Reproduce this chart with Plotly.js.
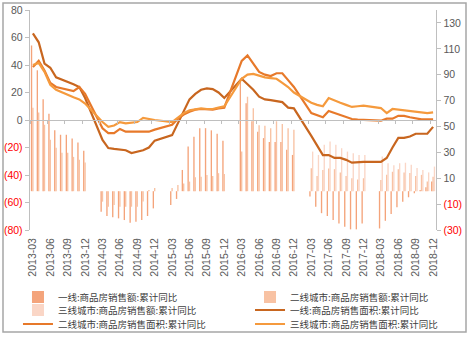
<!DOCTYPE html>
<html>
<head>
<meta charset="utf-8">
<script src="https://cdn.plot.ly/plotly-3.0.1.min.js"></script>
<style>
html,body{margin:0;padding:0;background:#fff;}
#chart{width:473px;height:342px;}
</style>
</head>
<body>
<div id="chart"></div>
<script>
// full monthly category axis 2013-03 .. 2018-12
var allMonths = [
 '2013-03','2013-04','2013-05','2013-06','2013-07','2013-08','2013-09','2013-10','2013-11','2013-12',
 '2014-01','2014-02','2014-03','2014-04','2014-05','2014-06','2014-07','2014-08','2014-09','2014-10','2014-11','2014-12',
 '2015-01','2015-02','2015-03','2015-04','2015-05','2015-06','2015-07','2015-08','2015-09','2015-10','2015-11','2015-12',
 '2016-01','2016-02','2016-03','2016-04','2016-05','2016-06','2016-07','2016-08','2016-09','2016-10','2016-11','2016-12',
 '2017-01','2017-02','2017-03','2017-04','2017-05','2017-06','2017-07','2017-08','2017-09','2017-10','2017-11','2017-12',
 '2018-01','2018-02','2018-03','2018-04','2018-05','2018-06','2018-07','2018-08','2018-09','2018-10','2018-11','2018-12'
];
// months that carry data (Mar-Dec of each year)
var dataMonths = [
 '2013-03','2013-04','2013-05','2013-06','2013-07','2013-08','2013-09','2013-10','2013-11','2013-12',
 '2014-03','2014-04','2014-05','2014-06','2014-07','2014-08','2014-09','2014-10','2014-11','2014-12',
 '2015-03','2015-04','2015-05','2015-06','2015-07','2015-08','2015-09','2015-10','2015-11','2015-12',
 '2016-03','2016-04','2016-05','2016-06','2016-07','2016-08','2016-09','2016-10','2016-11','2016-12',
 '2017-03','2017-04','2017-05','2017-06','2017-07','2017-08','2017-09','2017-10','2017-11','2017-12',
 '2018-03','2018-04','2018-05','2018-06','2018-07','2018-08','2018-09','2018-10','2018-11','2018-12'
];
var tickLabels = ['2013-03','2013-06','2013-09','2013-12','2014-03','2014-06','2014-09','2014-12',
 '2015-03','2015-06','2015-09','2015-12','2016-03','2016-06','2016-09','2016-12',
 '2017-03','2017-06','2017-09','2017-12','2018-03','2018-06','2018-09','2018-12'];

// bars (right axis): 商品房销售额 累计同比
var tier1Sales = [112.6,93.4,71.1,59.8,47,43.6,43.6,40.8,37.7,31.2,
 -15.9,-19.2,-20.2,-21,-22.3,-24.4,-23.6,-22.3,-19.2,-13.3,
 -10.7,-6,16.4,34.5,42,48.7,48.7,47,44.3,39,
 86,68,54,46,41,38,38,38,32,28,
 -4.2,-12,-17,-19.2,-22.3,-24.9,-27.5,-29.5,-29.5,-25,
 -28.8,-22.9,-17.7,-12.5,-8.1,-4.7,-1.6,1,3,7.4];
var tier2Sales = [64.5,60.8,51.3,39.7,33.5,29.6,29.6,26.5,24.2,22.2,
 -8.1,-12,-10.7,-12,-12,-12,-12,-8,1,2.5,
 2.5,4.8,6,7.4,10.8,11.2,12.5,11.8,13.9,13.3,
 30.6,73,64,51,50.5,48.7,54,52,48.7,47.4,
 17.7,11.8,16.4,17.5,17,14.5,11.8,10,9,10,
 8.7,12.6,15,17,14.5,14,11.8,12.6,7.4,11.2];
var tier3Sales = [null,null,null,null,null,null,null,null,null,null,
 null,null,null,null,null,null,null,null,null,null,
 null,null,null,null,null,null,null,null,null,null,
 null,null,null,null,null,null,null,null,null,null,
 30.6,28,35.8,38.4,35.8,33.2,30.6,29.4,28,28,
 26.7,21.6,20,21.6,22,20.5,18,16.4,14.5,19];

// lines (left axis): 商品房销售面积 累计同比
var tier1Area = [63,56.5,41,38,31,29.5,27.5,26,24,16,
 -14.5,-20.4,-21,-21.5,-22,-24,-23,-22,-20,-15,
 -11,-2,7,15,19,22,23,22.5,20,16,
 30,26,22,17,15,14.5,13.5,13,9,8.5,
 -11.6,-19,-25.5,-25.5,-27.6,-27.6,-29,-31,-30.5,-30.5,
 -30.5,-27.6,-20,-13,-13,-12,-10,-10,-10,-5];
var tier2Area = [38.5,43,36,27,24,23,22,21,24,19,
 -6,-9.5,-9.5,-6.5,-8.5,-8.5,-8.5,-8,-8.5,-7,
 -3.5,1,4,6,7.5,8,7.5,7.5,8.5,9,
 43,47,41,35,33,32,34,34,29,24,
 5,3.6,2,6.5,5,3.6,2,0.7,0.3,0,
 -0.5,1,1,3,3,2,1,0.5,0.5,0.5];
var tier3Area = [40,41.5,35,25.5,22,20,18,16.5,15,12,
 -1.5,-5,-4,-1.5,-2.5,-2,-1.5,1.5,0.5,0,
 -1.5,1.5,5,7,8,8.5,8,8,9,10,
 30,33,33.5,32,31,30.5,30,27,24,20,
 12.5,11,10,16,14,12.5,11,9.5,10,10.5,
 8.7,5,8,7.5,7,6.5,6,5.5,5,5.5];

var leftTicks = [-80,-60,-40,-20,0,20,40,60,80];
var rightTicks = [-30,-10,10,30,50,70,90,110,130];

var names = ['一线:商品房销售额:累计同比','二线城市:商品房销售额:累计同比','三线城市:商品房销售额:累计同比',
 '一线:商品房销售面积:累计同比','二线城市:商品房销售面积:累计同比','三线城市:商品房销售面积:累计同比'];
var barColors = ['#F4A47B','#F8C2A3','#FAD6C6'];
var lineColors = ['#C8661F','#E7792A','#F59A3D'];

function fmt(v){
  if (v < 0) return '<span style="color:#FF0000">(' + Math.abs(v) + ')</span>';
  return String(v);
}

var traces = [];
// category holders
traces.push({type:'scatter', x: allMonths, y: allMonths.map(function(){return null;}), xaxis:'x', yaxis:'y', showlegend:false, hoverinfo:'skip', mode:'lines'});
traces.push({type:'scatter', x: allMonths, y: allMonths.map(function(){return null;}), xaxis:'x2', yaxis:'y2', showlegend:false, hoverinfo:'skip', mode:'lines'});

var legendIds = ['legend','legend2','legend3','legend4','legend5','legend6'];
var salesSets = [tier1Sales, tier2Sales, tier3Sales];
for (var i=0;i<3;i++){
  traces.push({type:'bar', name:names[i], x:dataMonths, y:salesSets[i], xaxis:'x', yaxis:'y',
    marker:{color:barColors[i], line:{width:0}}, legend:legendIds[i]});
}
var areaSets = [tier1Area, tier2Area, tier3Area];
for (var j=0;j<3;j++){
  traces.push({type:'scatter', mode:'lines', name:names[3+j], x:dataMonths, y:areaSets[j], xaxis:'x', yaxis:'y2',
    connectgaps:true, line:{color:lineColors[j], width:2.2}, legend:legendIds[3+j]});
}

var tickFont = {family:'Liberation Sans, Arial, sans-serif', size:10.5, color:'#595959'};
var legFont = {family:'Noto Sans CJK SC, sans-serif', size:9.5, color:'#404040'};
var col1 = -0.0296, col2 = 0.5419;
var row1 = -0.3045, row2 = -0.3636, row3 = -0.4273;
function legendAt(xv, yv){
  return {orientation:'v', x:xv, xanchor:'left', y:yv, yanchor:'middle', font:legFont,
    bgcolor:'rgba(0,0,0,0)', borderwidth:0, itemwidth:30};
}

var layout = {
  width:473, height:342,
  margin:{l:30, r:37, t:10, b:112, autoexpand:false},
  paper_bgcolor:'#FFFFFF', plot_bgcolor:'#FFFFFF',
  barmode:'group', bargap:0.3, bargroupgap:0,
  xaxis:{type:'category', categoryorder:'array', categoryarray:allMonths, range:[-0.5, allMonths.length-0.5],
    tickmode:'array', tickvals:tickLabels, ticktext:tickLabels, tickangle:-90, ticks:'', showline:false,
    showgrid:false, zeroline:false, tickfont:tickFont, ticklabelstandoff:5, fixedrange:true},
  xaxis2:{type:'category', categoryorder:'array', categoryarray:allMonths, range:[-0.5, allMonths.length-0.5],
    overlaying:'x', anchor:'free', position:0.5, side:'bottom', showline:true, linecolor:'#BFBFBF', linewidth:1.3,
    ticks:'outside', ticklen:3, tickcolor:'#BFBFBF', tickson:'boundaries', tickmode:'linear', tick0:0, dtick:3,
    showticklabels:false, showgrid:false, zeroline:false},
  yaxis:{range:[-30,140], side:'right', tickmode:'array', tickvals:rightTicks, ticktext:rightTicks.map(fmt),
    showline:true, linecolor:'#BFBFBF', linewidth:1.3, ticks:'outside', ticklen:4, tickcolor:'#BFBFBF',
    showgrid:false, zeroline:false, tickfont:tickFont},
  yaxis2:{range:[-80,80], side:'left', overlaying:'y', tickmode:'array', tickvals:leftTicks, ticktext:leftTicks.map(fmt),
    showline:true, linecolor:'#BFBFBF', linewidth:1.3, ticks:'outside', ticklen:4, tickcolor:'#BFBFBF',
    showgrid:false, zeroline:false, tickfont:tickFont},
  legend: legendAt(col1, row1),
  legend2: legendAt(col2, row1),
  legend3: legendAt(col1, row2),
  legend4: legendAt(col2, row2),
  legend5: legendAt(col1, row3),
  legend6: legendAt(col2, row3),
  shapes:[{type:'rect', xref:'paper', yref:'paper', x0:-0.0665, x1:1.0739, y0:-0.4636, y1:1.0318,
    line:{color:'#A6A6A6', width:1.5}, fillcolor:'rgba(0,0,0,0)', layer:'below'}],
  showlegend:true
};

Plotly.newPlot('chart', traces, layout, {displayModeBar:false, staticPlot:true});
</script>
</body>
</html>
